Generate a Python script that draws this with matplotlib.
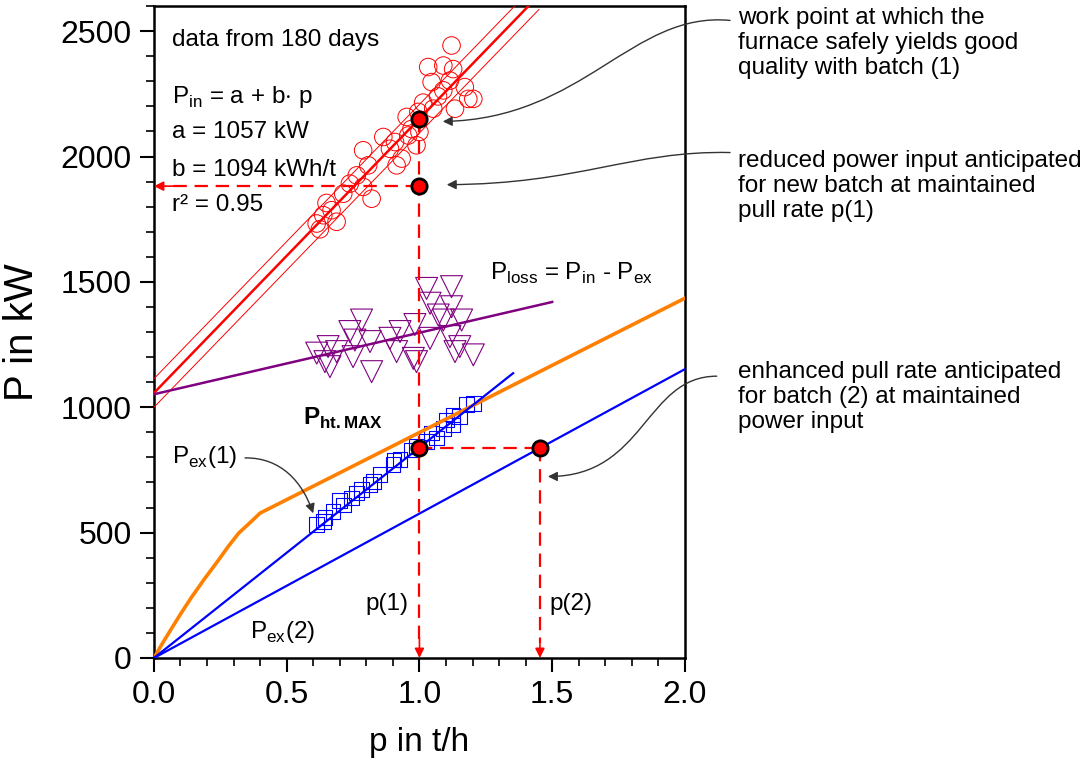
import matplotlib.pyplot as plt
from matplotlib.patches import FancyArrowPatch
from matplotlib.path import Path

plt.rcParams['font.family'] = ['Liberation Sans', 'DejaVu Sans']
plt.rcParams['mathtext.fontset'] = 'custom'
plt.rcParams['mathtext.rm'] = 'Liberation Sans'
plt.rcParams['mathtext.bf'] = 'Liberation Sans:bold'

# measured power input (daily data), p in t/h, P in kW
pin_p = [1.121, 1.033, 1.090, 1.127, 1.046, 1.115, 1.171, 1.090, 1.184, 1.203,
         1.134, 0.996, 1.052, 1.014, 0.952, 0.989, 0.908, 0.889, 0.933, 0.914,
         0.788, 0.807, 0.764, 0.738, 0.788, 0.820, 0.713, 0.650, 0.638, 0.613,
         0.669, 0.688, 0.625, 0.864, 0.958, 1.000, 0.970, 1.070]
pin_P = [2443, 2357, 2363, 2349, 2297, 2303, 2277, 2264, 2230, 2230,
         2191, 2178, 2191, 2215, 2158, 2045, 2058, 2031, 1992, 1965,
         2025, 1965, 1925, 1892, 1879, 1832, 1852, 1815, 1766, 1733,
         1786, 1740, 1710, 2078, 2084, 2098, 2110, 2240]

# heat losses
loss_p = [0.782, 1.027, 1.121, 1.040, 1.121, 1.071, 1.090, 1.159, 0.983, 0.927,
          0.889, 0.757, 0.814, 0.656, 0.613, 0.688, 0.750, 0.644, 0.663, 0.820,
          0.914, 0.977, 0.989, 1.040, 1.115, 1.152, 1.203, 1.134, 0.738]
loss_P = [1348, 1474, 1481, 1415, 1401, 1368, 1348, 1348, 1330, 1302,
          1275, 1268, 1262, 1242, 1216, 1222, 1202, 1182, 1162, 1142,
          1222, 1195, 1182, 1275, 1282, 1242, 1209, 1222, 1302]

# heat exchanged to the melt, batch (1)
ex_p = [0.613, 0.644, 0.675, 0.713, 0.745, 0.782, 0.814, 0.826, 0.901, 0.927,
        0.970, 0.989, 1.027, 1.046, 1.064, 1.102, 1.127, 1.152, 1.178, 1.203,
        0.638, 0.764, 0.851, 1.127, 0.700, 0.905, 1.090]
ex_P = [532, 561, 585, 611, 638, 672, 691, 705, 771, 791,
        830, 843, 864, 897, 877, 949, 970, 963, 1010, 1016,
        545, 658, 732, 929, 628, 790, 915]

# regression P_in = a + b*p and its band
a_in, b_in = 1057, 1094
band = 57
fit_p = [0.0, 1.45]

# P_loss line
loss_line_p = [0.0, 1.5]
loss_line_P = [1052, 1420]

# P_ex lines
ex1_p = [0.0, 1.353]
ex1_P = [0, 1136]
ex2_p = [0.0, 2.0]
ex2_P = [0, 1152]

# P_ht.MAX curve
ht_p = [0.0, 0.03, 0.06, 0.10, 0.14, 0.19, 0.24, 0.28, 0.32, 0.35, 0.40, 2.0]
ht_P = [0, 55, 107, 175, 240, 315, 386, 445, 499, 528, 578, 1435]

# work points
p1, p2 = 1.0, 1.454
P_work = a_in + b_in * p1
P_new = 1882
P_ex_work = 838

fig = plt.figure(figsize=(10.88, 7.66), dpi=100)
ax = fig.add_axes([0.1415, 0.141, 0.488, 0.851])

red = '#ff0000'
blue = '#0000ff'
purple = '#800080'
orange = '#ff8000'

fit_P = [a_in + b_in * p for p in fit_p]
ax.plot(fit_p, fit_P, color=red, lw=1.8, zorder=3)
ax.plot(fit_p, [v + band for v in fit_P], color=red, lw=0.7, zorder=3)
ax.plot(fit_p, [v - band for v in fit_P], color=red, lw=0.7, zorder=3)
ax.scatter(pin_p, pin_P, s=160, facecolors='none', edgecolors=red, linewidths=0.7, zorder=2)

ax.plot(loss_line_p, loss_line_P, color=purple, lw=1.8, zorder=3)
ax.scatter(loss_p, loss_P, s=250, marker='v', facecolors='none', edgecolors=purple,
           linewidths=0.8, zorder=2)

ax.plot(ht_p, ht_P, color=orange, lw=2.6, zorder=3)
ax.plot(ex1_p, ex1_P, color=blue, lw=1.6, zorder=3)
ax.plot(ex2_p, ex2_P, color=blue, lw=1.6, zorder=3)
ax.scatter(ex_p, ex_P, s=110, marker='s', facecolors='none', edgecolors=blue,
           linewidths=0.8, zorder=2)

# dashed guide lines
dash = dict(color=red, lw=1.6, ls=(0, (6, 3.5)), zorder=4)
ax.plot([p1, p1], [P_work, 60], **dash)
ax.plot([p1, 0.04], [P_new, P_new], **dash)
ax.plot([p1, p2], [P_ex_work, P_ex_work], **dash)
ax.plot([p2, p2], [P_ex_work, 60], **dash)
head = dict(arrowstyle='-|>', color=red, lw=1.2, mutation_scale=14, shrinkA=0, shrinkB=0)
ax.annotate('', xy=(p1, 0), xytext=(p1, 80), arrowprops=head, zorder=5)
ax.annotate('', xy=(p2, 0), xytext=(p2, 80), arrowprops=head, zorder=5)
ax.annotate('', xy=(0, P_new), xytext=(0.08, P_new), arrowprops=head, zorder=5)

ax.plot([p1, p1, p1, p2], [P_work, P_new, P_ex_work, P_ex_work], ls='none', marker='o',
        ms=11, mfc=red, mec='black', mew=2, zorder=6)

ax.set_xlim(0, 2.0)
ax.set_ylim(0, 2600)
ax.set_xticks([0, 0.5, 1.0, 1.5, 2.0])
ax.set_xticks([i / 10 for i in range(21)], minor=True)
ax.set_yticks([0, 500, 1000, 1500, 2000, 2500])
ax.set_yticks(range(0, 2601, 100), minor=True)
ax.set_xticklabels(['0.0', '0.5', '1.0', '1.5', '2.0'])
ax.tick_params(which='major', direction='out', length=10, width=1.5, labelsize=23, pad=6)
ax.tick_params(which='minor', direction='out', length=6, width=1.2)
for s in ax.spines.values():
    s.set_linewidth(1.8)
ax.set_xlabel('p in t/h', fontsize=24, labelpad=12)
ax.set_ylabel('P in kW', fontsize=29, labelpad=14)

# texts inside the plot
fs = 17.5
ax.text(0.068, 2440, 'data from 180 days', fontsize=fs)
ax.text(0.068, 2214, r'P$_{\mathregular{in}}$ = a + b$\cdot$ p', fontsize=fs)
ax.text(0.068, 2075, 'a = 1057 kW', fontsize=fs)
ax.text(0.068, 1921, 'b = 1094 kWh/t', fontsize=fs)
ax.text(0.068, 1782, 'r² = 0.95', fontsize=fs)
ax.text(1.266, 1509, r'P$_{\mathregular{loss}}$ = P$_{\mathregular{in}}$ - P$_{\mathregular{ex}}$', fontsize=fs)
ax.text(0.561, 930, r'P$_{\mathbf{ht.MAX}}$', fontsize=fs, fontweight='bold')
ax.text(0.068, 778, r'P$_{\mathregular{ex}}$(1)', fontsize=fs)
ax.text(0.361, 80, r'P$_{\mathregular{ex}}$(2)', fontsize=fs)
ax.text(0.96, 190, 'p(1)', fontsize=fs, ha='right')
ax.text(1.49, 190, 'p(2)', fontsize=fs, ha='left')

# notes to the right
notes = ['work point at which the\nfurnace safely yields good\nquality with batch (1)',
         'reduced power input anticipated\nfor new batch at maintained\npull rate p(1)',
         'enhanced pull rate anticipated\nfor batch (2) at maintained\npower input']
note_y = [2598, 2026, 1185]
for t, y in zip(notes, note_y):
    ax.text(2.2, y, t, fontsize=fs, va='top', linespacing=1.18, clip_on=False)


def curve(pts):
    codes = [Path.MOVETO, Path.CURVE4, Path.CURVE4, Path.CURVE4]
    arr = FancyArrowPatch(path=Path(pts, codes), arrowstyle='-|>', mutation_scale=14,
                          color='#333333', lw=1.0, transform=ax.transData, clip_on=False,
                          zorder=7)
    ax.add_patch(arr)


curve([(2.17, 2543), (1.80, 2580), (1.62, 2150), (1.088, 2140)])
curve([(2.17, 2016), (1.80, 2025), (1.60, 1890), (1.103, 1888)])
curve([(2.12, 1124), (1.85, 1124), (1.85, 724), (1.484, 724)])
curve([(0.343, 798), (0.48, 800), (0.56, 700), (0.60, 577)])

fig.savefig('out.png', dpi=100)
